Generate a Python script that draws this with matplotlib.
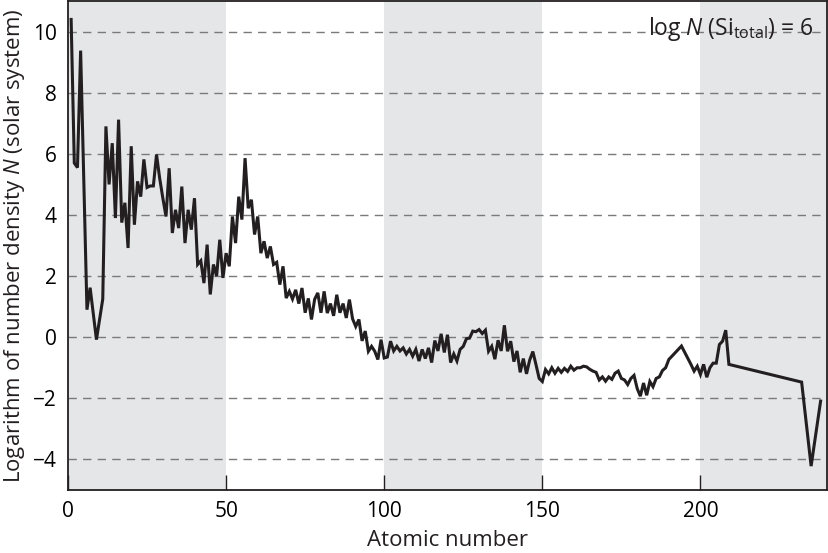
import matplotlib
matplotlib.use("Agg")
import matplotlib.pyplot as plt

# Mass / atomic number (x) and log abundance (y)
atomic_number = [1, 2, 3, 4, 6, 7, 9, 11, 12, 13, 14, 15, 16, 17, 18, 19, 20,
                 21, 22, 23, 24, 25, 26, 27, 28, 29, 30, 31, 32, 33, 34, 35,
                 36, 37, 38, 39, 40, 41, 42, 43, 44, 45, 46, 47, 48, 49, 50,
                 51, 52, 53, 54, 55, 56, 57, 58, 59, 60, 61, 62, 63, 64, 65,
                 66, 67, 68, 69, 70, 71, 72, 73, 74, 75, 76, 77, 78, 79, 80,
                 81, 82, 83, 84, 85, 86, 87, 88, 89, 90, 91, 92, 93, 94, 95,
                 96, 97, 98, 99, 100, 101, 102, 103, 104, 105, 106, 107, 108,
                 109, 110, 111, 112, 113, 114, 115, 116, 117, 118, 119, 120,
                 121, 122, 123, 124, 125, 126, 127, 128, 129, 130, 131, 132,
                 133, 134, 135, 136, 137, 138, 139, 140, 141, 142, 143, 144,
                 145, 146, 147, 148, 149, 150, 151, 152, 153, 154, 155, 156,
                 157, 158, 159, 160, 161, 162, 163, 164, 165, 166, 167, 168,
                 169, 170, 171, 172, 173, 174, 175, 176, 177, 178, 179, 180,
                 181, 182, 183, 184, 185, 186, 187, 188, 189, 190, 194, 197,
                 198, 199, 200, 201, 202, 203, 204, 205, 206, 207, 208, 209,
                 232, 235, 238]
log_abundance = [10.40, 5.70, 5.55, 9.38, 0.90, 1.62, -0.08, 1.25, 6.90, 5.00,
                 6.35, 3.90, 7.12, 3.75, 4.40, 2.92, 6.25, 3.68, 5.10, 4.60,
                 5.82, 4.90, 4.95, 4.95, 5.98, 5.20, 4.55, 3.95, 5.53, 3.41,
                 4.17, 3.57, 4.93, 3.08, 4.17, 3.52, 4.55, 2.38, 2.50, 1.77,
                 3.03, 1.40, 2.38, 2.00, 3.19, 1.94, 2.75, 2.32, 3.95, 3.08,
                 4.60, 3.85, 5.86, 4.22, 4.50, 3.36, 3.95, 2.75, 3.14, 2.59,
                 2.97, 2.38, 2.45, 1.72, 2.32, 1.28, 1.50, 1.25, 1.55, 1.10,
                 1.61, 0.80, 1.27, 0.58, 1.24, 1.45, 0.80, 1.50, 0.79, 1.10,
                 0.70, 1.39, 0.80, 1.10, 0.63, 1.23, 0.60, 0.35, 0.58, -0.12,
                 0.20, -0.46, -0.30, -0.46, -0.73, -0.08, -0.68, -0.65, -0.13,
                 -0.45, -0.30, -0.45, -0.35, -0.55, -0.40, -0.62, -0.40, -0.78,
                 -0.40, -0.70, -0.35, -0.83, -0.11, -0.45, 0.11, -0.50, 0.08,
                 -0.83, -0.55, -0.78, -0.40, -0.30, -0.05, -0.03, 0.20, 0.18,
                 0.25, 0.12, 0.23, -0.46, -0.30, -0.72, -0.10, -0.45, 0.39,
                 -0.46, -0.13, -0.80, -0.45, -1.15, -0.70, -1.20, -0.75, -0.47,
                 -0.90, -1.35, -1.45, -1.06, -1.20, -1.00, -1.18, -1.02, -1.15,
                 -1.02, -1.12, -0.95, -1.08, -1.00, -1.00, -0.95, -0.97, -1.05,
                 -1.11, -1.15, -1.40, -1.30, -1.44, -1.30, -1.38, -1.18, -1.11,
                 -1.35, -1.40, -1.55, -1.35, -1.25, -1.68, -1.93, -1.50, -1.90,
                 -1.45, -1.62, -1.35, -1.30, -1.09, -1.00, -0.73, -0.29, -0.89,
                 -1.11, -0.95, -1.22, -0.89, -1.31, -1.00, -0.85, -0.85, -0.24,
                 -0.13, 0.23, -0.89, -1.47, -4.22, -2.09]

x_ticks = [0, 50, 100, 150, 200]
y_ticks = [-4, -2, 0, 2, 4, 6, 8, 10]
shaded_bands = [(0, 50), (100, 150), (200, 240)]

plt.rcParams['font.family'] = ['Open Sans', 'DejaVu Sans']
plt.rcParams['mathtext.fontset'] = 'custom'
plt.rcParams['mathtext.rm'] = 'Open Sans'
plt.rcParams['mathtext.it'] = 'Open Sans:italic'

fig = plt.figure(figsize=(8.29, 5.53), dpi=100)
ax = fig.add_axes([0.082, 0.114, 0.9155, 0.884])

for a, b in shaded_bands:
    ax.axvspan(a, b, color='#e5e6e8', lw=0, zorder=0)

for yv in y_ticks:
    ax.axhline(yv, color='#7a7a7a', lw=1.0, ls=(0, (6, 4.5)), zorder=1)

ax.plot(atomic_number, log_abundance, color='#231f20', lw=2.2, zorder=3,
        solid_joinstyle='miter')

ax.set_xlim(0, 240)
ax.set_ylim(-5, 11)
ax.set_xticks(x_ticks)
ax.set_yticks(y_ticks)
ax.set_yticklabels([str(v).replace('-', '\u2212') for v in y_ticks])
ax.tick_params(axis='x', direction='in', length=11, width=1, labelsize=15,
               pad=8, color='#231f20')
ax.tick_params(axis='y', length=0, labelsize=15, pad=8)
for s in ax.spines.values():
    s.set_color('#231f20')
    s.set_linewidth(1.3)

ax.set_xlabel('Atomic number', fontsize=16, labelpad=6, color='#231f20')
ax.set_ylabel(r'Logarithm of number density $\mathit{N}$ (solar system)',
              fontsize=16, labelpad=4, color='#231f20')

ax.text(0.982, 0.943, r'log $\mathit{N}$ (Si$_{\mathrm{total}}$) = 6',
        transform=ax.transAxes, ha='right', va='center', fontsize=16.5,
        color='#231f20')

fig.savefig('out.png', dpi=100)
